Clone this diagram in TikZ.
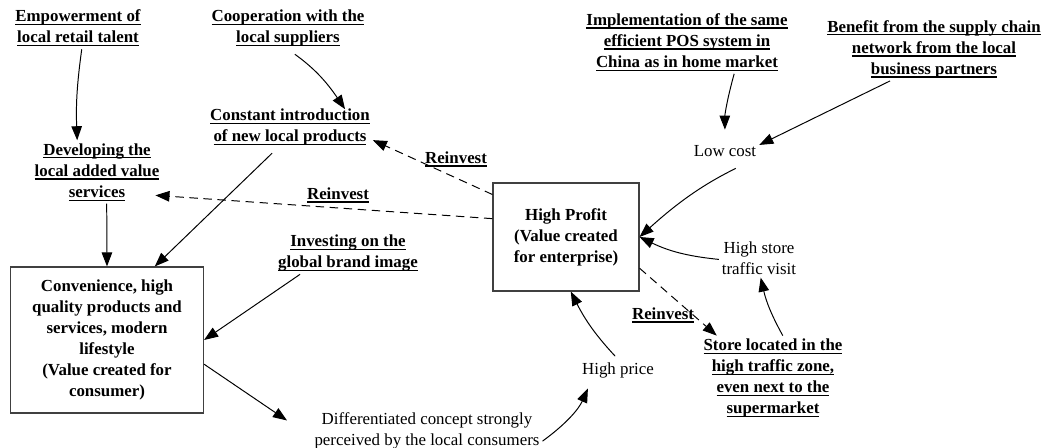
\documentclass[tikz,border=0pt]{standalone}
\usepackage{fontspec}
\setmainfont{Liberation Serif}
\usepackage{tikz}
\usetikzlibrary{calc, positioning, arrows.meta}
\newcommand{\undl}[1]{\setbox0\hbox{#1}\rlap{\rule[-2.4pt]{\wd0}{0.8pt}}\box0}
\tikzset{
    driver/.style={align=center, inner sep=2pt, font=\bfseries},
    effect/.style={align=center, inner sep=2pt},
    valuebox/.style={rectangle, draw=black!75, line width=0.8pt, align=center, inner sep=2pt, font=\bfseries},
    arrow/.style={-{Triangle[length=10pt, width=7.5pt]}, line width=0.7pt},
    reinvest/.style={arrow, dash pattern=on 6pt off 4pt},
    rlabel/.style={align=center, inner sep=1pt, font=\bfseries}
}

\begin{document}
\fontsize{12}{15}\selectfont
\begin{tikzpicture}[x=0.025cm, y=0.025cm]
    \useasboundingbox (0,0) rectangle (1042,448);

    % --- VALUE BOXES ---
    \node[valuebox, minimum width=3.65cm, minimum height=2.7cm] (Prof) at (566,211) {High Profit\\(Value created\\for enterprise)};
    \node[valuebox, minimum width=4.825cm, minimum height=3.65cm] (Conv) at (107,108) {Convenience, high\\quality products and\\services, modern\\lifestyle\\(Value created for\\consumer)};

    % --- CONSUMER SIDE ---
    \node[driver] (Emp) at (78,420) {\undl{Empowerment of}\\\undl{local retail talent}};
    \node[driver] (Coop) at (288,420) {\undl{Cooperation with the}\\\undl{local suppliers}};
    \node[driver] (Const) at (290,321) {\undl{Constant introduction}\\\undl{of new local products}};
    \node[driver] (Dev) at (97,276) {\undl{Developing the}\\\undl{local added value}\\\undl{services}};
    \node[driver] (Inv) at (348,195) {\undl{Investing on the}\\\undl{global brand image}};
    \node[effect] (Diff) at (427,17) {Differentiated concept strongly\\perceived by the local consumers};

    \draw[arrow] (Emp.-80) to[bend right=5] (Dev.122);
    \draw[arrow, shorten <=6pt, shorten >=-3pt] (Coop.south) to[bend left=10] (Const.22);
    \draw[arrow, shorten <=5pt] (Const.239) -- (Conv.57);
    \draw[arrow] (Dev.-73) -- (Conv.north);
    \draw[arrow] (Inv.204) -- (Conv.east);
    \draw[arrow, shorten >=21pt] (Conv.-14) -- (Diff.183);   % gap before the text

    % --- ENTERPRISE SIDE ---
    \node[driver] (Impl) at (687,406) {\undl{Implementation of the same}\\\undl{efficient POS system in}\\\undl{China as in home market}};
    \node[driver] (Ben) at (934,399) {\undl{Benefit from the supply chain}\\\undl{network from the local}\\\undl{business partners}};
    \node[effect] (Low) at (725,297) {Low cost};
    \node[effect] (Traf) at (759,190) {High store\\traffic visit};
    \node[driver] (Store) at (773,70) {\undl{Store located in the}\\\undl{high traffic zone,}\\\undl{even next to the}\\\undl{supermarket}};
    \node[effect] (Price) at (618,78) {High price};

    \draw[arrow, shorten >=9pt] (Impl.-34) to[bend right=8] (Low.north);
    \draw[arrow] (Ben.216) -- (Low.10);
    \draw[arrow, shorten <=14pt] (Low.-17) to[bend right=8] (Prof.east);
    \draw[arrow] (Traf.182) to[bend left=10] (Prof.east);
    \draw[arrow] (Store.77) to[bend left=8] (Traf.-85);
    \draw[arrow, shorten >=6pt] (Diff.-5) to[bend right=15] (Price.202);
    \draw[arrow, shorten <=3pt] (Price.north) to[bend left=8] (Prof.-85);

    % --- REINVESTMENT LOOPS ---
    \draw[reinvest] (Prof.150) -- (Const.-9);
    \draw[reinvest, shorten >=-5pt] (Prof.166) -- (Dev.-20);
    \draw[reinvest] (Prof.-23) -- (Store.143);
    \node[rlabel] (R1) at (456,289) {\undl{Reinvest}};
    \node[rlabel] (R2) at (338,253) {\undl{Reinvest}};
    \node[rlabel] (R3) at (663,133) {\undl{Reinvest}};

\end{tikzpicture}
\end{document}
